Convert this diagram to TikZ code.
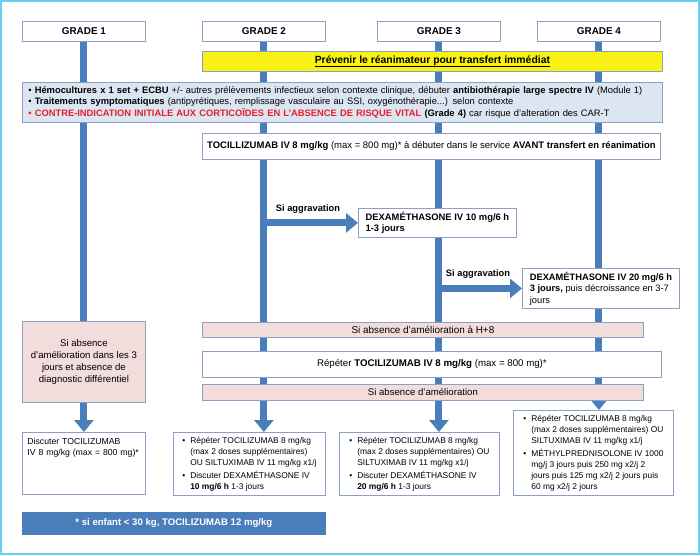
\documentclass[tikz,border=0pt]{standalone}
\usepackage{fontspec}
\setmainfont{Liberation Sans}
\usetikzlibrary{arrows.meta,backgrounds}
\definecolor{flowblue}{RGB}{74,126,187}
\definecolor{boxline}{RGB}{140,160,195}
\definecolor{infofill}{RGB}{220,230,242}
\definecolor{pinkfill}{RGB}{242,220,220}
\definecolor{warnyellow}{RGB}{248,242,20}
\definecolor{framecyan}{RGB}{100,210,240}
\definecolor{alertred}{RGB}{230,30,40}

\begin{document}
\begin{tikzpicture}[x=1pt,y=-1pt,
    box/.style={draw=boxline,line width=0.8pt,fill=white,inner sep=3pt,anchor=north west},
    grade/.style={box,minimum width=123pt,minimum height=20pt,font=\fontsize{9.9}{12}\selectfont\bfseries},
    pinkbox/.style={box,fill=pinkfill},
    flow/.style={draw=flowblue,line width=7pt},
    flowarrow/.style={flow,-{Triangle[width=19pt,length=12pt]}},
    small/.style={font=\fontsize{8.4}{11}\selectfont}]
    \useasboundingbox (0,0) rectangle (700,555);
    \draw[framecyan,line width=2pt] (1,1) rectangle (699,554);
    \node (g1) [grade] at (22,21) {GRADE 1};
    \node (g2) [grade] at (202,21) {GRADE 2};
    \node (g3) [grade] at (377,21) {GRADE 3};
    \node (g4) [grade] at (537,21) {GRADE 4};
    \node (warn) [box,fill=warnyellow,minimum width=460pt,minimum height=20pt,font=\fontsize{10.4}{12}\selectfont\bfseries] at (202,51) {\underline{Prévenir le réanimateur pour transfert immédiat}};
    \node (info) [box,fill=infofill,minimum height=40pt,inner xsep=6pt,text width=628pt,align=left,font=\fontsize{9.35}{11}\selectfont] at (22,82)
      {\textbullet\ \textbf{Hémocultures x 1 set + ECBU} +/- autres prélèvements infectieux selon contexte clinique, débuter \textbf{antibiothérapie large spectre IV} (Module 1)\\
       \textbullet\ \textbf{Traitements symptomatiques} (antipyrétiques, remplissage vasculaire au SSI, oxygénothérapie...) selon contexte\\[1pt]
       \textcolor{alertred}{\bfseries\textbullet\ CONTRE-INDICATION INITIALE AUX CORTICOÏDES EN L’ABSENCE DE RISQUE VITAL} \textbf{(Grade 4)} car risque d’alteration des CAR-T};
    \node (toci) [box,minimum width=458pt,minimum height=26pt,font=\fontsize{9.5}{11}\selectfont] at (202,133)
      {\textbf{TOCILLIZUMAB IV 8 mg/kg} (max = 800 mg)* à débuter dans le service \textbf{AVANT transfert en réanimation}};
    \node (ag1) [font=\fontsize{9.3}{11}\selectfont\bfseries] at (308,209) {Si aggravation};
    \node (d10) [box,minimum width=158pt,minimum height=29pt,align=left,font=\fontsize{9.4}{11.5}\selectfont\bfseries] at (358,208)
      {DEXAMÉTHASONE IV 10 mg/6 h\\1-3 jours};
    \node (ag2) [font=\fontsize{9.3}{11}\selectfont\bfseries] at (478,274) {Si aggravation};
    \node (d20) [box,minimum width=157pt,minimum height=40pt,align=left,font=\fontsize{9.3}{11.5}\selectfont] at (522,268)
      {\textbf{DEXAMÉTHASONE IV 20 mg/6 h}\\\textbf{3 jours,} puis décroissance en 3-7\\jours};
    \node (s1) [pinkbox,minimum width=123pt,minimum height=81pt,align=center,font=\fontsize{9.6}{12}\selectfont] at (22,321)
      {Si absence\\d’amélioration dans les 3\\jours et absence de\\diagnostic différentiel};
    \node (h8) [pinkbox,minimum width=441pt,minimum height=15pt,inner ysep=1pt,font=\fontsize{9.9}{11}\selectfont] at (202,322) {Si absence d’amélioration à H+8};
    \node (rep) [box,minimum width=459pt,minimum height=26pt,font=\fontsize{9.7}{11}\selectfont] at (202,351)
      {Répéter \textbf{TOCILIZUMAB IV 8 mg/kg} (max = 800 mg)*};
    \node (sa) [pinkbox,minimum width=441pt,minimum height=16pt,inner ysep=1pt,font=\fontsize{9.6}{11}\selectfont] at (202,384) {Si absence d’amélioration};
    \node (b1) [box,font=\fontsize{8.7}{11.5}\selectfont,inner xsep=5pt,text width=113pt,align=left,text height=8pt,text depth=46pt,inner ysep=4pt] at (22,432)
      {Discuter TOCILIZUMAB\\IV 8 mg/kg (max = 800 mg)*};
    \node (b2) [box,small,minimum width=152pt,minimum height=62pt,inner xsep=6pt,align=left] at (173,432)
      {\begin{tabular}{@{}l@{\hspace{5pt}}l@{}}
        \textbullet & Répéter TOCILIZUMAB 8 mg/kg\\
        & (max 2 doses supplémentaires)\\
        & OU SILTUXIMAB IV 11 mg/kg x1/j\\[2pt]
        \textbullet & Discuter DEXAMÉTHASONE IV\\
        & \textbf{10 mg/6 h} 1-3 jours
      \end{tabular}};
    \node (b3) [box,small,minimum width=160pt,minimum height=62pt,inner xsep=6pt,align=left] at (339,432)
      {\begin{tabular}{@{}l@{\hspace{5pt}}l@{}}
        \textbullet & Répéter TOCILIZUMAB 8 mg/kg\\
        & (max 2 doses supplémentaires) OU\\
        & SILTUXIMAB IV 11 mg/kg x1/j\\[2pt]
        \textbullet & Discuter DEXAMÉTHASONE IV\\
        & \textbf{20 mg/6 h} 1-3 jours
      \end{tabular}};
    \node (b4) [box,small,minimum width=156pt,minimum height=83pt,inner xsep=10pt,align=left] at (513,410)
      {\begin{tabular}{@{}l@{\hspace{5pt}}l@{}}
        \textbullet & Répéter TOCILIZUMAB 8 mg/kg\\
        & (max 2 doses supplémentaires) OU\\
        & SILTUXIMAB IV 11 mg/kg x1/j\\[2pt]
        \textbullet & MÉTHYLPREDNISOLONE IV 1000\\
        & mg/j 3 jours puis 250 mg x2/j 2\\
        & jours puis 125 mg x2/j 2 jours puis\\
        & 60 mg x2/j 2 jours
      \end{tabular}};
    \node (note) [box,draw=flowblue,fill=flowblue,text=white,minimum width=303pt,minimum height=22pt,font=\fontsize{9.6}{11}\selectfont\bfseries] at (22,512)
      {* si enfant < 30 kg, TOCILIZUMAB 12 mg/kg};
    \begin{pgfonlayer}{background}
      \draw[flowarrow] (g1.south) -- (b1.north);
      \draw[flowarrow] (g2.south) -- (g2.south |- b2.north);
      \draw[flowarrow] (g3.south) -- (g3.south |- b3.north);
      \draw[flowarrow] (g4.south) -- (g4.south |- b4.north);
      \draw[flowarrow] (g2.south |- d10.west) -- (d10.west);
      \draw[flowarrow] (g3.south |- d20.west) -- (d20.west);
    \end{pgfonlayer}
  \end{tikzpicture}
\end{document}
